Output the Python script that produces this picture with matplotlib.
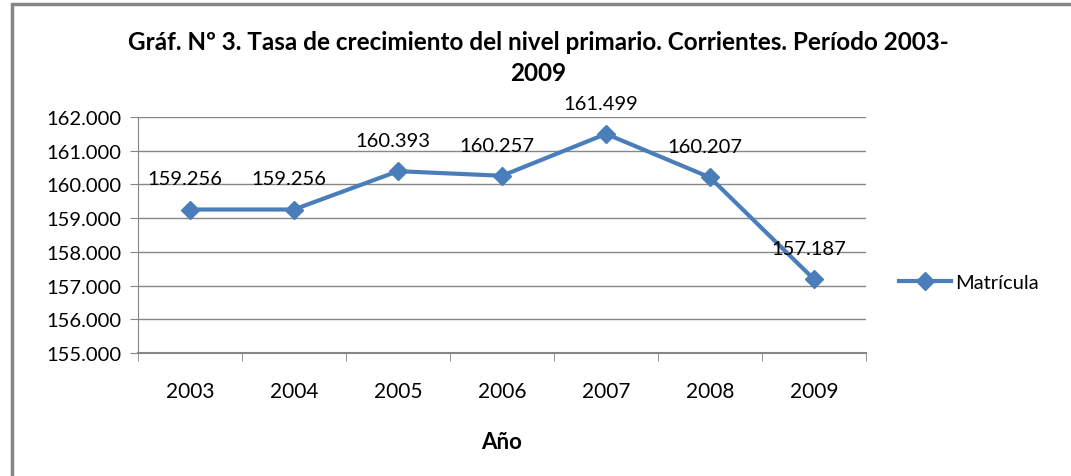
import matplotlib.pyplot as plt
from matplotlib.patches import Rectangle
from matplotlib.ticker import FuncFormatter

plt.rcParams['font.family'] = ['Lato', 'DejaVu Sans']

years = ['2003', '2004', '2005', '2006', '2007', '2008', '2009']
matricula = [159256, 159256, 160393, 160257, 161499, 160207, 157187]
labels = ['159.256', '159.256', '160.393', '160.257', '161.499', '160.207', '157.187']

fig = plt.figure(figsize=(10.71, 4.77), dpi=100)
ax = fig.add_axes([138 / 1071, 1 - 354 / 477, (866 - 138) / 1071, (354 - 118) / 477])

x = range(len(years))
ax.plot(x, matricula, color='#4A7EBB', lw=3, marker='D', markersize=9,
        label='Matrícula', zorder=3)
for i, (v, s) in enumerate(zip(matricula, labels)):
    ax.annotate(s, (i, v), xytext=(-4, 16), textcoords='offset points',
                ha='center', va='bottom', fontsize=14.5)

ax.set_xlim(-0.5, len(years) - 0.5)
ax.set_ylim(155000, 162000)
ax.set_yticks(range(155000, 162001, 1000))
ax.yaxis.set_major_formatter(FuncFormatter(lambda v, p: f'{int(v):,}'.replace(',', '.')))
ax.set_xticks(list(x))
ax.set_xticklabels(years)
ax.set_xticks([i - 0.5 for i in range(len(years) + 1)], minor=True)
ax.tick_params(axis='x', which='major', length=0, pad=20, labelsize=15)
ax.tick_params(axis='x', which='minor', length=6, color='#868686', direction='out')
ax.tick_params(axis='y', length=6, color='#868686', labelsize=14.5, pad=6)

ax.grid(axis='y', color='#868686', lw=1)
ax.set_axisbelow(True)
for side in ['top', 'right']:
    ax.spines[side].set_visible(False)
for side in ['left', 'bottom']:
    ax.spines[side].set_color('#868686')
ax.spines['bottom'].set_linewidth(1.5)

ax.set_xlabel('Año', fontsize=16, fontweight='bold', labelpad=22)

fig.text(538 / 1071, 1 - 58 / 477,
         'Gráf. Nº 3. Tasa de crecimiento del nivel primario. Corrientes. Período 2003-\n2009',
         ha='center', va='center', fontsize=17.5, fontweight='bold', linespacing=1.45)

ax.legend(loc='center left', bbox_to_anchor=(1.02, 0.3), frameon=False,
          fontsize=14.5, handlelength=2.6, handletextpad=0.2)

fig.patches.append(Rectangle((12 / 1071, -0.1), 1.2, 1 - 5 / 477 + 0.1,
                             transform=fig.transFigure, fill=False,
                             edgecolor='#868686', lw=2.5))

fig.savefig('out.png', dpi=100)
